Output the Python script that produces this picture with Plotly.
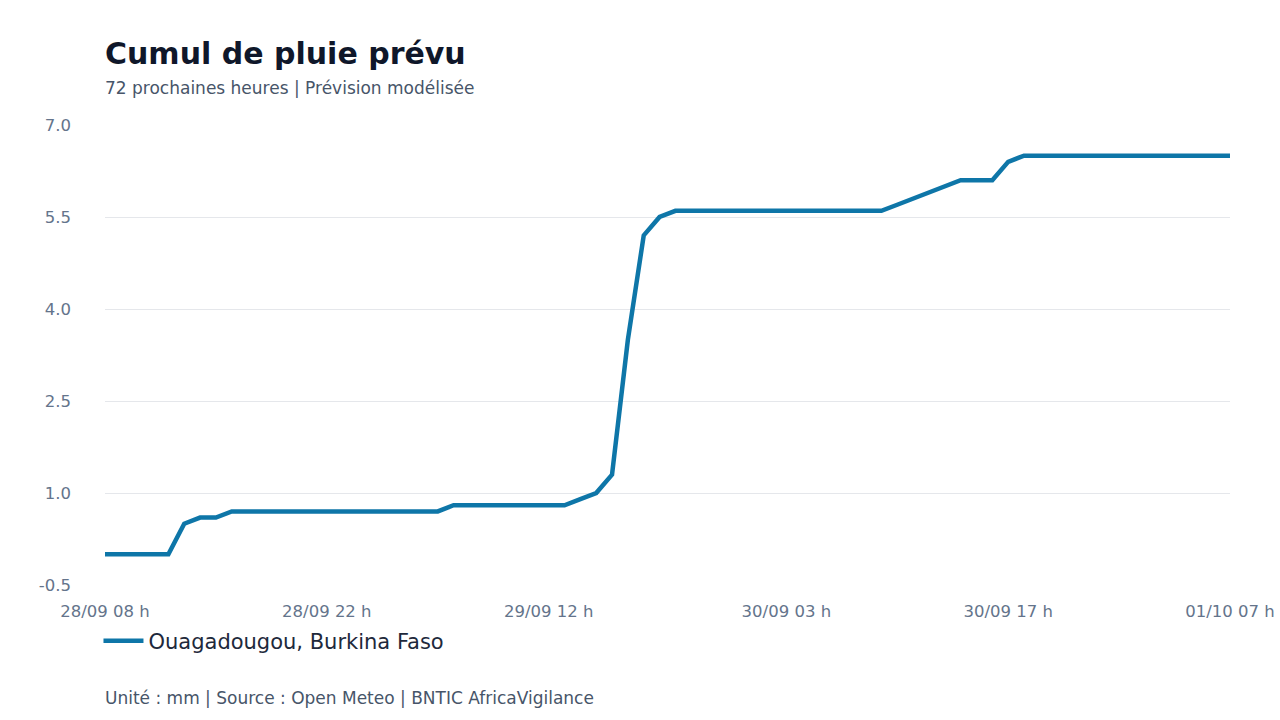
import pandas as pd
import plotly.graph_objects as go

# Hourly time steps (72 hours, 28/09 08 h -> 01/10 07 h)
hours = [t.strftime("%d/%m %H h") for t in pd.date_range("2025-09-28 08:00", periods=72, freq="h")]

# Cumulative forecast rainfall (mm)
rain_cumul = [
    0, 0, 0, 0, 0,
    0.5, 0.6, 0.6, 0.7,
    0.7, 0.7, 0.7, 0.7, 0.7, 0.7, 0.7, 0.7, 0.7, 0.7, 0.7, 0.7, 0.7,
    0.8, 0.8, 0.8, 0.8, 0.8, 0.8, 0.8, 0.8,
    0.9, 1.0, 1.3, 3.5, 5.2, 5.5,
    5.6, 5.6, 5.6, 5.6, 5.6, 5.6, 5.6, 5.6, 5.6, 5.6, 5.6, 5.6, 5.6, 5.6,
    5.7, 5.8, 5.9, 6.0,
    6.1, 6.1, 6.1,
    6.4,
    6.5, 6.5, 6.5, 6.5, 6.5, 6.5, 6.5, 6.5, 6.5, 6.5, 6.5, 6.5, 6.5, 6.5,
]

series_name = "Ouagadougou, Burkina Faso"
x_tick_labels = ["28/09 08 h", "28/09 22 h", "29/09 12 h", "30/09 03 h", "30/09 17 h", "01/10 07 h"]
y_ticks = [-0.5, 1.0, 2.5, 4.0, 5.5, 7.0]

title = "Cumul de pluie prévu"
subtitle = "72 prochaines heures | Prévision modélisée"
footer = "Unité : mm | Source : Open Meteo | BNTIC AfricaVigilance"

FONT = "DejaVu Sans"
LINE = "#0e76a8"

fig = go.Figure()
fig.add_trace(go.Scatter(
    x=hours, y=rain_cumul, mode="lines", name=series_name,
    line=dict(color=LINE, width=4.5),
))

fig.update_layout(
    width=1280, height=720,
    paper_bgcolor="white", plot_bgcolor="white",
    margin=dict(l=105, r=50, t=125, b=135, autoexpand=False),
    font=dict(family=FONT, color="#64748b"),
    showlegend=True,
    legend=dict(
        orientation="h", x=-0.0058, xanchor="left", y=-0.122, yanchor="middle",
        font=dict(family=FONT, size=21, color="#1e293b"),
        bgcolor="rgba(0,0,0,0)", itemwidth=40,
    ),
    xaxis=dict(
        type="category", range=[0, len(hours) - 1],
        tickmode="array", tickvals=x_tick_labels, ticktext=x_tick_labels,
        showgrid=False, zeroline=False, showline=False, ticks="",
        ticklabelstandoff=14, automargin=False,
        tickfont=dict(family=FONT, size=16.5, color="#64748b"),
    ),
    yaxis=dict(
        range=[-0.5, 7.0], tickmode="array", tickvals=y_ticks,
        ticktext=[f"{v:.1f}" for v in y_ticks],
        showgrid=True, gridcolor="#e5e7eb", gridwidth=1,
        zeroline=False, showline=False, ticks="",
        ticklabelstandoff=33, automargin=False,
        tickfont=dict(family=FONT, size=16.5, color="#64748b"),
    ),
    annotations=[
        dict(text=f"<b>{title}</b>", xref="paper", yref="paper", x=0, y=(585 - 53) / 460,
             xanchor="left", yanchor="middle", showarrow=False, xshift=-2,
             font=dict(family=FONT, size=30, color="#0f172a")),
        dict(text=subtitle, xref="paper", yref="paper", x=0, y=(585 - 88) / 460,
             xanchor="left", yanchor="middle", showarrow=False, xshift=-2,
             font=dict(family=FONT, size=17, color="#475569")),
        dict(text=footer, xref="paper", yref="paper", x=0, y=(585 - 698) / 460,
             xanchor="left", yanchor="middle", showarrow=False, xshift=-2,
             font=dict(family=FONT, size=17, color="#475569")),
    ],
)

html = fig.to_html(full_html=True, include_plotlyjs=True, config={"displayModeBar": False})
html = html.replace("<head>", "<head><style>html,body{margin:0;padding:0;overflow:hidden;}</style>", 1)
with open("out.html", "w", encoding="utf-8") as f:
    f.write(html)
